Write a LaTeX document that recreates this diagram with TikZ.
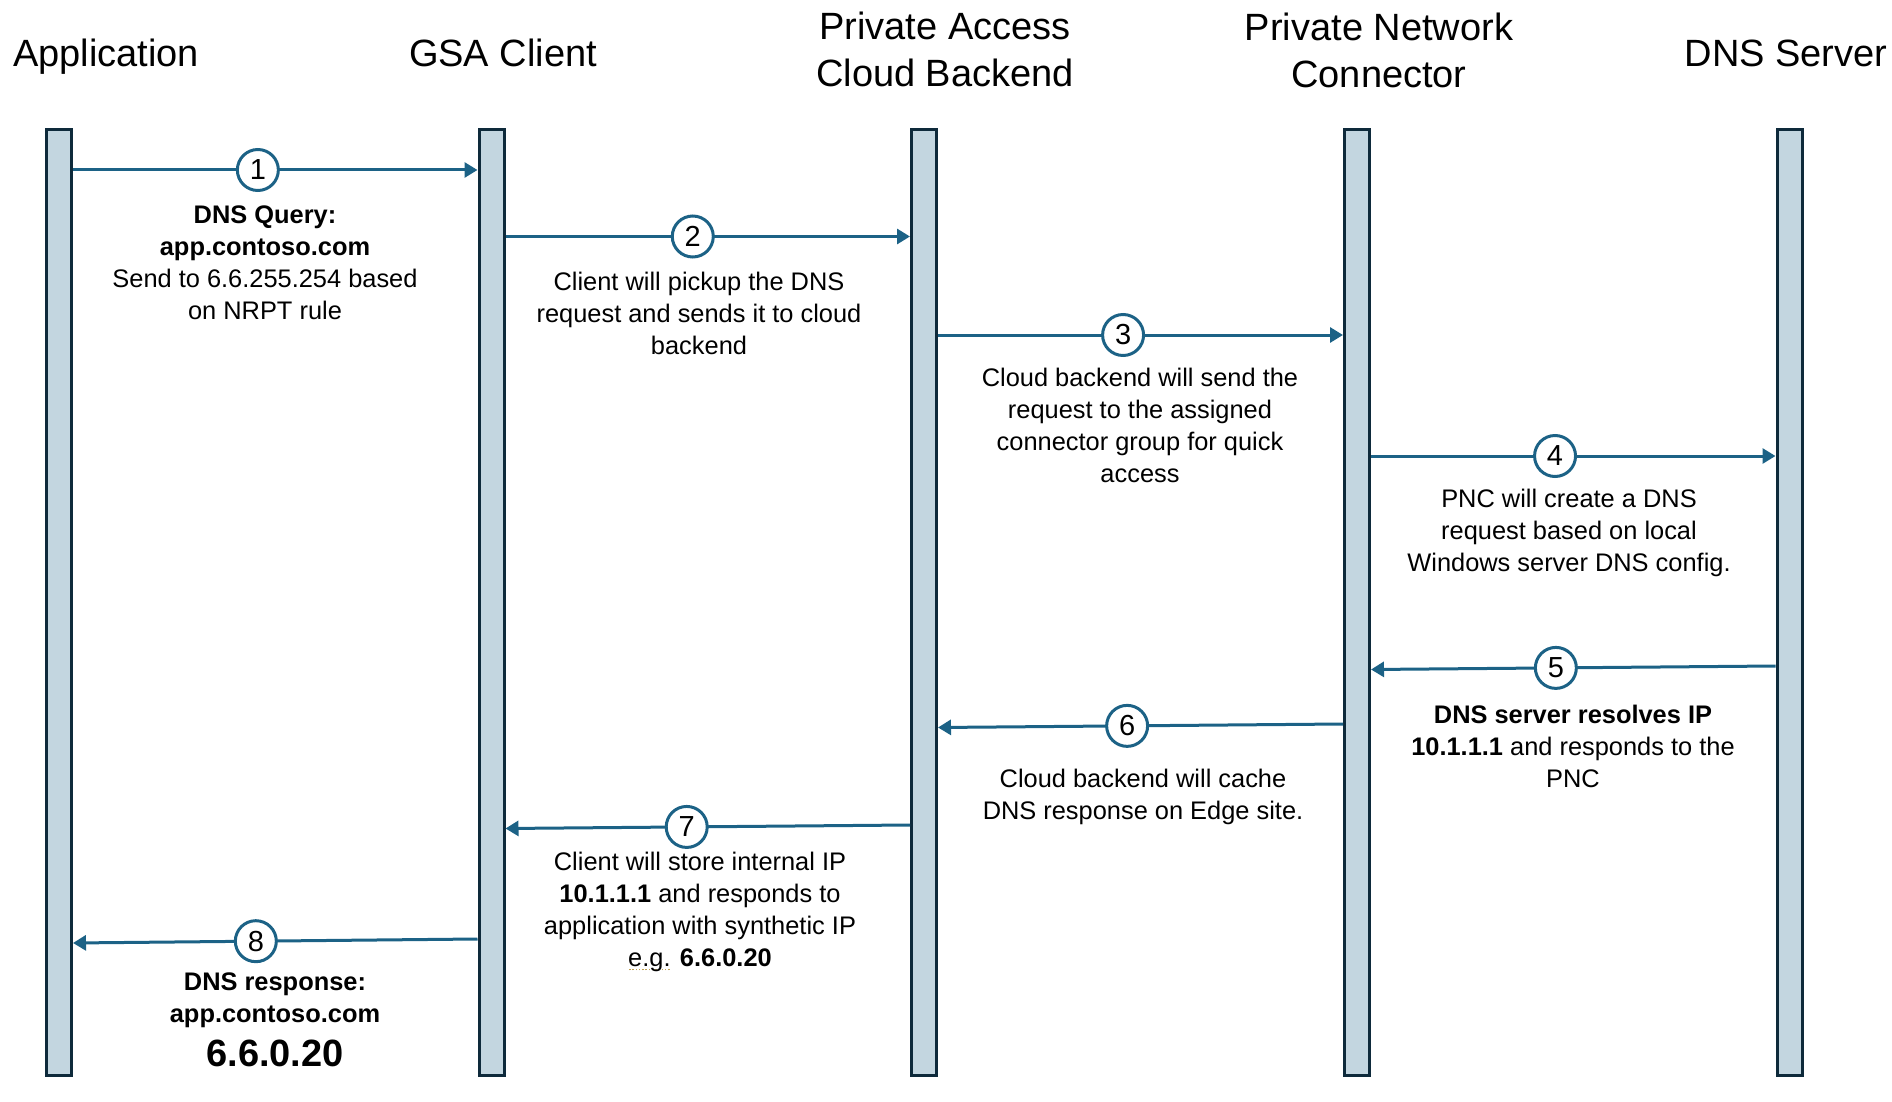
\documentclass[tikz,border=0pt]{standalone}
\usepackage{fontspec}
\setmainfont{Liberation Sans}
\usetikzlibrary{arrows.meta}
\definecolor{barfill}{HTML}{C3D6E0}
\definecolor{bardraw}{HTML}{0E2A3B}
\definecolor{msgcol}{HTML}{1C6286}
\definecolor{squig}{HTML}{C0A050}
\newcommand\spellmark[1]{\setbox0\hbox{#1}\rlap{\color{squig}\hbox to \wd0{\xleaders\hbox to 1.6pt{\hss\rule[-2.2pt]{0.8pt}{0.8pt}\hss}\hfill}}#1}
\begin{document}
\begin{tikzpicture}[x=0.5pt,y=-0.5pt,
  lifeline/.style={rectangle, draw=bardraw, fill=barfill, line width=1.5pt,
    minimum width=12.5pt, minimum height=473pt, inner sep=0pt},
  header/.style={font=\fontsize{19}{23.5}\selectfont, anchor=base, align=center, inner sep=0pt},
  desc/.style={font=\fontsize{12.7}{15.9}\selectfont, anchor=base, align=center, inner sep=0pt},
  msg/.style={draw=msgcol, line width=1.5pt, -{Triangle[length=6.5pt,width=7.5pt]}},
  num/.style={circle, draw=msgcol, line width=1.5pt, fill=white, minimum size=20.5pt,
    inner sep=0pt, font=\fontsize{14.5}{14.5}\selectfont}]
\useasboundingbox (0,0) rectangle (1892,1102);

% lifelines
\node[lifeline] (app) at (59,602.5) {};
\node[lifeline] (gsa) at (491.5,602.5) {};
\node[lifeline] (pac) at (924,602.5) {};
\node[lifeline] (pnc) at (1357,602.5) {};
\node[lifeline] (dns) at (1789.5,602.5) {};

% headers (anchor = baseline of the last line)
\node[header] (happ) at (106,67) {Application};
\node[header] (hgsa) at (503,67) {GSA Client};
\node[header] (hpac) at (945,87) {Private Access\\Cloud Backend};
\node[header] (hpnc) at (1379,88) {Private Network\\Connector};
\node[header] (hdns) at (1786,67) {DNS Server};

% end points of the messages
\coordinate (a1) at (app.east |- 0,170);   \coordinate (b1) at (gsa.west |- 0,170);
\coordinate (a2) at (gsa.east |- 0,236.5); \coordinate (b2) at (pac.west |- 0,236.5);
\coordinate (a3) at (pac.east |- 0,335);   \coordinate (b3) at (pnc.west |- 0,335);
\coordinate (a4) at (pnc.east |- 0,456);   \coordinate (b4) at (dns.west |- 0,456);
\coordinate (a5) at (dns.west |- 0,666);   \coordinate (b5) at (pnc.east |- 0,669.5);
\coordinate (a6) at (pnc.west |- 0,724);   \coordinate (b6) at (pac.east |- 0,727.5);
\coordinate (a7) at (pac.west |- 0,825);   \coordinate (b7) at (gsa.east |- 0,828.5);
\coordinate (a8) at (gsa.west |- 0,939);   \coordinate (b8) at (app.east |- 0,943);

% messages
\draw[msg] (a1) -- node[num, pos=0.457] (n1) {1} (b1);
\draw[msg] (a2) -- node[num, pos=0.463] (n2) {2} (b2);
\draw[msg] (a3) -- node[num, pos=0.457] (n3) {3} (b3);
\draw[msg] (a4) -- node[num, pos=0.455] (n4) {4} (b4);
\draw[msg] (a5) -- node[num, pos=0.543] (n5) {5} (b5);
\draw[msg] (a6) -- node[num, pos=0.533] (n6) {6} (b6);
\draw[msg] (a7) -- node[num, pos=0.552] (n7) {7} (b7);
\draw[msg] (a8) -- node[num, pos=0.548] (n8) {8} (b8);

% descriptions (anchor = baseline of the last line)
\node[desc] (l1) at (265,319) {{\bfseries DNS Query:}\\{\bfseries app.contoso.com}\\Send to 6.6.255.254 based\\on NRPT rule};
\node[desc] (l2) at (699,354) {Client will pickup the DNS\\request and sends it to cloud\\backend};
\node[desc] (l3) at (1140,482) {Cloud backend will send the\\request to the assigned\\connector group for quick\\access};
\node[desc] (l4) at (1569,571) {PNC will create a DNS\\request based on local\\Windows server DNS config.};
\node[desc] (l5) at (1573,787) {{\bfseries DNS server resolves IP}\\{\bfseries 10.1.1.1} and responds to the\\PNC};
\node[desc] (l6) at (1143,819) {Cloud backend will cache\\DNS response on Edge site.};
\node[desc] (l7) at (700,966) {Client will store internal IP\\{\bfseries 10.1.1.1} and responds to\\application with synthetic IP\\\spellmark{e.g.} {\bfseries 6.6.0.20}};
\node[desc] (l8) at (275,1066) {{\bfseries DNS response:}\\{\bfseries app.contoso.com}\\[5pt]{\fontsize{19}{19}\selectfont\bfseries 6.6.0.20}};
\end{tikzpicture}
\end{document}
